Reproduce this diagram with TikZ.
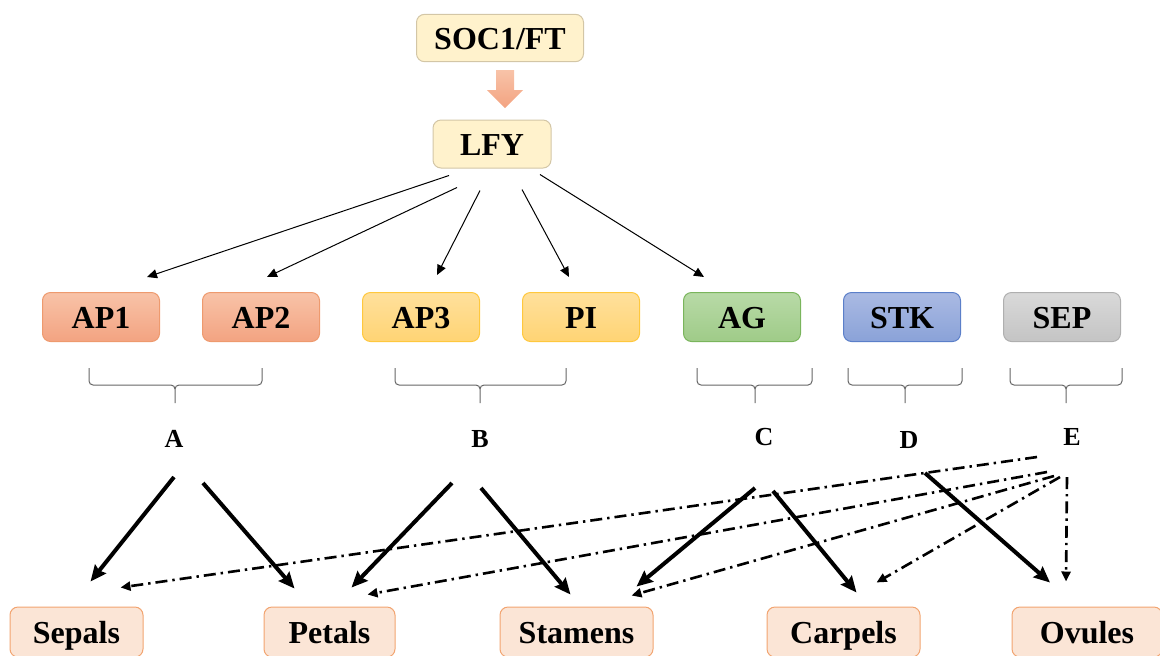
\documentclass[tikz,border=0pt]{standalone}
\usepackage{fontspec}
\setmainfont{Liberation Serif}
\usepackage{xcolor}
\usetikzlibrary{arrows.meta,calc}

\definecolor{jaune}{HTML}{FFF2CC}
\definecolor{jauned}{HTML}{D3C6A6}
\definecolor{saumonh}{HTML}{F8C3A8}
\definecolor{saumonb}{HTML}{F3A381}
\definecolor{saumond}{HTML}{EE9A6E}
\definecolor{orh}{HTML}{FFE09C}
\definecolor{orb}{HTML}{FFD474}
\definecolor{ord}{HTML}{FFC83D}
\definecolor{verth}{HTML}{B8DAA7}
\definecolor{vertb}{HTML}{9FCB88}
\definecolor{vertd}{HTML}{7AB55C}
\definecolor{bleuh}{HTML}{AABAE3}
\definecolor{bleub}{HTML}{8AA2D8}
\definecolor{bleud}{HTML}{5B7FC9}
\definecolor{grish}{HTML}{D9D9D9}
\definecolor{grisb}{HTML}{C4C4C4}
\definecolor{grisd}{HTML}{AFAFAF}
\definecolor{peche}{HTML}{FBE5D6}
\definecolor{peched}{HTML}{F2A470}

\begin{document}
\begin{tikzpicture}[x=0.5pt,y=-0.5pt,
	boite/.style={rounded corners=4pt,line width=0.5pt,text height=14pt,text depth=3pt,font=\fontsize{16}{19}\selectfont\bfseries},
	gene/.style={boite,minimum width=58.5pt,minimum height=24.5pt},
	organe/.style={boite,fill=peche,draw=peched,minimum height=25pt},
	lettre/.style={font=\fontsize{13}{15}\selectfont\bfseries},
	fin/.style={line width=0.5pt,-{Triangle[length=5pt,width=4.5pt]}},
	epais/.style={line width=2pt,-{Stealth[length=8pt,width=7pt,inset=1pt]}},
	pointille/.style={line width=1.3pt,dash pattern=on 6pt off 2.5pt on 1.2pt off 2.5pt,-{Triangle[length=5pt,width=4.5pt]}}]
	\useasboundingbox (0,0) rectangle (1160,655);
	\node[boite,fill=jaune,draw=jauned,minimum width=83.5pt,minimum height=23pt] (soc) at (500,38) {SOC1/FT};
	\node[boite,fill=jaune,draw=jauned,minimum width=59pt,minimum height=24pt] (lfy) at (492,144) {LFY};
	\shade[top color=saumonh,bottom color=saumonb] (496,70) -- (514,70) -- (514,90) -- (523,90) -- (505,108) -- (487,90) -- (496,90) -- cycle; % grosse fleche
	% les genes
	\node[gene,top color=saumonh,bottom color=saumonb,draw=saumond] (ap1) at (101,317) {AP1};
	\node[gene,top color=saumonh,bottom color=saumonb,draw=saumond] (ap2) at (261,317) {AP2};
	\node[gene,top color=orh,bottom color=orb,draw=ord] (ap3) at (421,317) {AP3};
	\node[gene,top color=orh,bottom color=orb,draw=ord] (pi) at (581,317) {PI};
	\node[gene,top color=verth,bottom color=vertb,draw=vertd] (ag) at (742,317) {AG};
	\node[gene,top color=bleuh,bottom color=bleub,draw=bleud] (stk) at (902,317) {STK};
	\node[gene,top color=grish,bottom color=grisb,draw=grisd] (sep) at (1062,317) {SEP};
	\draw[fin] ($(lfy.south)+(-43,7)$) -- ($(ap1.north)+(46,-15)$);
	\draw[fin] ($(lfy.south)+(-35,19)$) -- ($(ap2.north)+(6,-15)$);
	\draw[fin] ($(lfy.south)+(-12,22)$) -- ($(ap3.north)+(16,-17)$);
	\draw[fin] ($(lfy.south)+(30,21)$) -- ($(pi.north)+(-12,-15)$);
	\draw[fin] ($(lfy.south)+(48,6)$) -- ($(ag.north)+(-38,-15)$);
	% accolades
	\foreach \g/\d/\m in {89/262/175,395/566/480,697/812/755,848/962/905,1010/1122/1066}
		\draw[gray!80!black,line width=0.5pt,rounded corners=2pt] (\g,368) -- (\g,385) -- (\m,385) -- (\m,403) (\d,368) -- (\d,385) -- (\m,385) -- (\m,403);
	\node[lettre] (A) at (174,439) {A};
	\node[lettre] (B) at (480,439) {B};
	\node[lettre] (C) at (764,437) {C};
	\node[lettre] (D) at (909,440) {D};
	\node[lettre] (E) at (1072,437) {E};
	% les organes
	\node[organe,minimum width=66.5pt] (sepales) at (76.5,632) {Sepals};
	\node[organe,minimum width=65.5pt] (petales) at (329.5,632) {Petals};
	\node[organe,minimum width=76.5pt] (etamines) at (576.5,632) {Stamens};
	\node[organe,minimum width=76.5pt] (carpelles) at (843.5,632) {Carpels};
	\node[organe,minimum width=75pt] (ovules) at (1087,632) {Ovules};
	\draw[epais] ($(A)+(0,38)$) -- ($(sepales.north)+(14,-25)$);
	\draw[epais] ($(A)+(29,44)$) -- ($(petales.north)+(-35,-18)$);
	\draw[epais] ($(B)+(-28,44)$) -- ($(petales.north)+(22,-19)$);
	\draw[epais] ($(B)+(1,49)$) -- ($(etamines.north)+(-6,-12)$);
	\draw[epais] ($(C)+(-9,51)$) -- ($(etamines.north)+(60,-20)$);
	\draw[epais] ($(C)+(9,54)$) -- ($(carpelles.north)+(13,-14)$);
	\draw[epais] ($(D)+(16,33)$) -- ($(ovules.north)+(-37,-24)$);
	\draw[pointille] ($(E)+(-35,20)$) -- ($(sepales.north)+(44,-19)$);
	\draw[pointille] ($(E)+(-25,35)$) -- ($(petales.north)+(38,-12)$);
	\draw[pointille] ($(E)+(-18,39)$) -- ($(etamines.north)+(55,-11)$);
	\draw[pointille] ($(E)+(-12,40)$) -- ($(carpelles.north)+(33,-24)$);
	\draw[pointille] ($(E)+(-5,40)$) -- ($(ovules.north)+(-21,-25)$);
\end{tikzpicture}
\end{document}
